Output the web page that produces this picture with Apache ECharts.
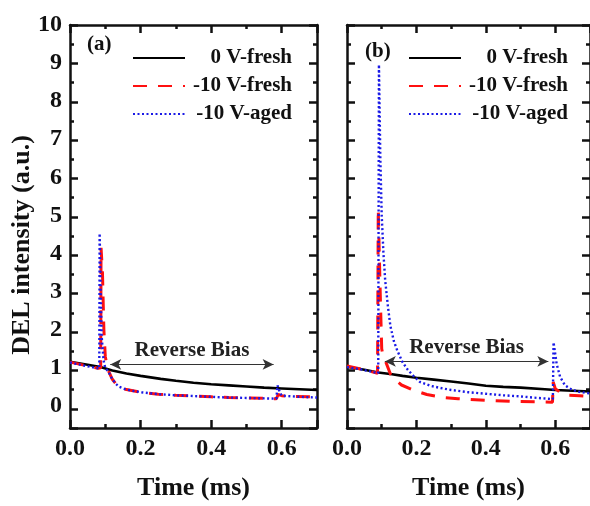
<!DOCTYPE html>
<html>
<head>
<meta charset="utf-8">
<script src="https://cdn.jsdelivr.net/npm/echarts@6/dist/echarts.min.js"></script>
<style>
html,body{margin:0;padding:0;background:#fff;}
#wrap{position:relative;width:590px;height:506px;overflow:hidden;}
#frame,#c{position:absolute;left:0;top:0;width:590px;height:506px;}
</style>
</head>
<body>
<div id="wrap"><div id="frame"></div><div id="c"></div></div>
<script>
// ---------- data ----------
const seriesNames = ['0 V-fresh', '-10 V-fresh', '-10 V-aged'];
const xMin = 0, xMax = 0.7, xMajor = 0.2, xMinor = 0.1;
const yMin = -0.5, yMax = 10;

// panel (a)
const aFresh0 = [[0,1.16],[0.05,1.08],[0.086,1.02],[0.12,0.93],[0.16,0.85],[0.2,0.79],[0.257,0.71],[0.3,0.66],[0.35,0.61],[0.4,0.57],[0.45,0.54],[0.5,0.51],[0.55,0.48],[0.6,0.46],[0.65,0.44],[0.7,0.42]];
const aFresh10 = [[0,1.15],[0.04,1.07],[0.08,0.99],[0.087,1.0],[0.088,4.15],[0.092,3.5],[0.096,2.0],[0.1,1.3],[0.105,1.05],[0.11,0.9],[0.12,0.7],[0.13,0.58],[0.14,0.5],[0.16,0.43],[0.2,0.36],[0.25,0.31],[0.3,0.28],[0.35,0.26],[0.4,0.24],[0.45,0.22],[0.5,0.21],[0.55,0.2],[0.585,0.19],[0.59,0.3],[0.6,0.27],[0.63,0.25],[0.7,0.24]];
const aAged10 = [[0,1.14],[0.04,1.06],[0.083,0.98],[0.084,4.53],[0.087,3.0],[0.09,1.8],[0.095,1.2],[0.1,1.0],[0.11,0.88],[0.12,0.7],[0.13,0.58],[0.14,0.5],[0.16,0.43],[0.2,0.36],[0.25,0.31],[0.3,0.28],[0.35,0.26],[0.4,0.24],[0.45,0.22],[0.5,0.21],[0.55,0.2],[0.585,0.19],[0.588,0.54],[0.595,0.35],[0.6,0.27],[0.65,0.24],[0.7,0.22]];
const aArrow = [0.114, 0.577, 1.09];

// panel (b)
const bFresh0 = [[0,1.03],[0.05,0.95],[0.09,0.88],[0.13,0.83],[0.16,0.79],[0.2,0.74],[0.25,0.69],[0.3,0.64],[0.35,0.59],[0.4,0.53],[0.45,0.5],[0.5,0.48],[0.57,0.44],[0.6,0.42],[0.65,0.4],[0.7,0.38]];
const bFresh10 = [[0,1.05],[0.04,0.97],[0.088,0.86],[0.09,5.18],[0.093,4.0],[0.097,2.5],[0.1,1.5],[0.104,1.3],[0.112,1.15],[0.125,0.84],[0.14,0.68],[0.157,0.55],[0.19,0.42],[0.23,0.3],[0.27,0.23],[0.32,0.19],[0.4,0.15],[0.47,0.12],[0.55,0.11],[0.592,0.1],[0.594,0.63],[0.6,0.45],[0.62,0.32],[0.64,0.28],[0.67,0.27],[0.7,0.25]];
const bAged10 = [[0,1.02],[0.04,0.96],[0.09,0.86],[0.092,8.96],[0.096,6.5],[0.1,5.0],[0.105,4.0],[0.11,3.3],[0.118,2.6],[0.125,2.1],[0.135,1.7],[0.145,1.45],[0.16,1.15],[0.175,0.95],[0.19,0.8],[0.21,0.63],[0.24,0.53],[0.27,0.47],[0.3,0.42],[0.35,0.36],[0.4,0.32],[0.45,0.28],[0.5,0.25],[0.55,0.21],[0.593,0.18],[0.595,1.67],[0.604,1.1],[0.614,0.76],[0.628,0.54],[0.647,0.43],[0.67,0.37],[0.7,0.33]];
const bArrow = [0.109, 0.58, 1.17];

// ---------- styling ----------
const FONT = '"Liberation Serif", "Times New Roman", serif';
const INK = '#111';
const colors = ['#000000', '#ff1010', '#1a1ae6'];
const lineStyles = [
  {color: colors[0], width: 2.6, type: 'solid'},
  {color: colors[1], width: 3, type: [14, 11]},
  {color: colors[2], width: 2.4, type: [2, 2.5]}
];
const zOrder = [3, 4, 5];

const grids = [
  {left: 70, top: 25, width: 247, height: 403},
  {left: 347, top: 25, width: 245, height: 403}
];

// ---------- frame chart: box and tick marks only ----------
function tick(len) {
  return {show: true, inside: true, length: len, lineStyle: {color: INK, width: 2.5}};
}
const line = {show: true, onZero: false, lineStyle: {color: INK, width: 2.5}};
const noLine = {show: false, onZero: false};
function frameX(g) {
  const base = {type: 'value', gridIndex: g, min: xMin, max: xMax, splitLine: {show: false}, axisLabel: {show: false}};
  return [
    Object.assign({}, base, {position: 'bottom', interval: xMajor, axisLine: line, axisTick: tick(8)}),
    Object.assign({}, base, {position: 'bottom', interval: xMinor, axisLine: noLine, axisTick: tick(4)}),
    Object.assign({}, base, {position: 'top', interval: xMajor, axisLine: line, axisTick: tick(8)}),
    Object.assign({}, base, {position: 'top', interval: xMinor, axisLine: noLine, axisTick: tick(4)})
  ];
}
function frameY(g) {
  const base = {type: 'value', gridIndex: g, min: yMin, max: yMax, splitLine: {show: false}, axisLabel: {show: false}};
  return [
    Object.assign({}, base, {position: 'left', splitNumber: 10, axisLine: line, axisTick: tick(8)}),
    Object.assign({}, base, {position: 'left', splitNumber: 20, axisLine: noLine, axisTick: tick(4)}),
    Object.assign({}, base, {position: 'right', splitNumber: 10, axisLine: line, axisTick: tick(8)}),
    Object.assign({}, base, {position: 'right', splitNumber: 20, axisLine: noLine, axisTick: tick(4)})
  ];
}
const frame = echarts.init(document.getElementById('frame'));
frame.setOption({
  backgroundColor: '#fff',
  animation: false,
  grid: grids,
  xAxis: frameX(0).concat(frameX(1)),
  yAxis: frameY(0).concat(frameY(1)),
  series: [
    {type: 'line', data: [], xAxisIndex: 0, yAxisIndex: 0},
    {type: 'line', data: [], xAxisIndex: 4, yAxisIndex: 4}
  ]
});

// ---------- main chart: data, labels, legend, annotations ----------
function mainX(g) {
  return {
    type: 'value', gridIndex: g, min: xMin, max: xMax, interval: xMajor, position: 'bottom',
    splitLine: {show: false}, axisLine: {show: false, onZero: false}, axisTick: {show: false},
    axisLabel: {show: true, margin: 12, showMaxLabel: false, formatter: v => Number(v).toFixed(1),
      fontFamily: FONT, fontWeight: 'bold', fontSize: 24, color: INK},
    name: 'Time (ms)', nameLocation: 'middle', nameGap: 50,
    nameTextStyle: {fontFamily: FONT, fontWeight: 'bold', fontSize: 26, color: INK}
  };
}
function mainY(g, labelled) {
  return {
    type: 'value', gridIndex: g, min: yMin, max: yMax, splitNumber: 10, position: 'left',
    splitLine: {show: false}, axisLine: {show: false, onZero: false}, axisTick: {show: false},
    axisLabel: labelled ? {show: true, margin: 8, fontFamily: FONT, fontWeight: 'bold', fontSize: 24, color: INK} : {show: false}
  };
}

function arrowMark(arr) {
  return {
    silent: true,
    symbol: ['arrow', 'arrow'],
    symbolSize: [8, 11],
    lineStyle: {color: '#333', width: 1.2, type: 'solid'},
    label: {show: true, position: 'insideMiddleTop', distance: 3, formatter: 'Reverse Bias',
      fontFamily: FONT, fontWeight: 'bold', fontSize: 21, color: '#222'},
    emphasis: {disabled: true},
    data: [[{coord: [arr[0], arr[2]]}, {coord: [arr[1], arr[2]]}]]
  };
}

function panelSeries(g, datasets, arrow) {
  return datasets.map((d, i) => {
    const s = {
      type: 'line', name: seriesNames[i], data: d,
      xAxisIndex: g, yAxisIndex: g,
      symbol: 'none', showSymbol: false, smooth: false, clip: true,
      lineStyle: lineStyles[i], itemStyle: {color: colors[i]},
      z: zOrder[i], animation: false
    };
    if (i === 0) s.markLine = arrowMark(arrow);
    return s;
  });
}

function legendFor(left) {
  return {
    data: seriesNames, left: left, top: 46, orient: 'vertical', padding: 0,
    itemWidth: 52, itemHeight: 14, itemGap: 4, selectedMode: false,
    itemStyle: {opacity: 0},
    formatter: n => '{r|' + n + '}',
    textStyle: {fontFamily: FONT, fontWeight: 'bold', fontSize: 21, color: INK, lineHeight: 24,
      rich: {r: {width: 102, align: 'right', fontFamily: FONT, fontWeight: 'bold', fontSize: 21, color: INK, lineHeight: 24}}}
  };
}

const chart = echarts.init(document.getElementById('c'));
chart.setOption({
  backgroundColor: 'transparent',
  animation: false,
  title: [
    {text: '(a)', left: 87, top: 34, padding: 0, textStyle: {fontFamily: FONT, fontWeight: 'bold', fontSize: 21, color: INK}},
    {text: '(b)', left: 365, top: 41, padding: 0, textStyle: {fontFamily: FONT, fontWeight: 'bold', fontSize: 21, color: INK}}
  ],
  graphic: [{
    type: 'text', x: 22, y: 245, rotation: Math.PI / 2, silent: true,
    style: {text: 'DEL intensity (a.u.)', fill: INK, fontFamily: FONT, fontWeight: 'bold', fontSize: 26,
      align: 'center', verticalAlign: 'middle'}
  }],
  legend: [legendFor(132), legendFor(408)],
  grid: grids,
  xAxis: [mainX(0), mainX(1)],
  yAxis: [mainY(0, true), mainY(1, false)],
  series: panelSeries(0, [aFresh0, aFresh10, aAged10], aArrow)
    .concat(panelSeries(1, [bFresh0, bFresh10, bAged10], bArrow))
});
</script>
</body>
</html>
